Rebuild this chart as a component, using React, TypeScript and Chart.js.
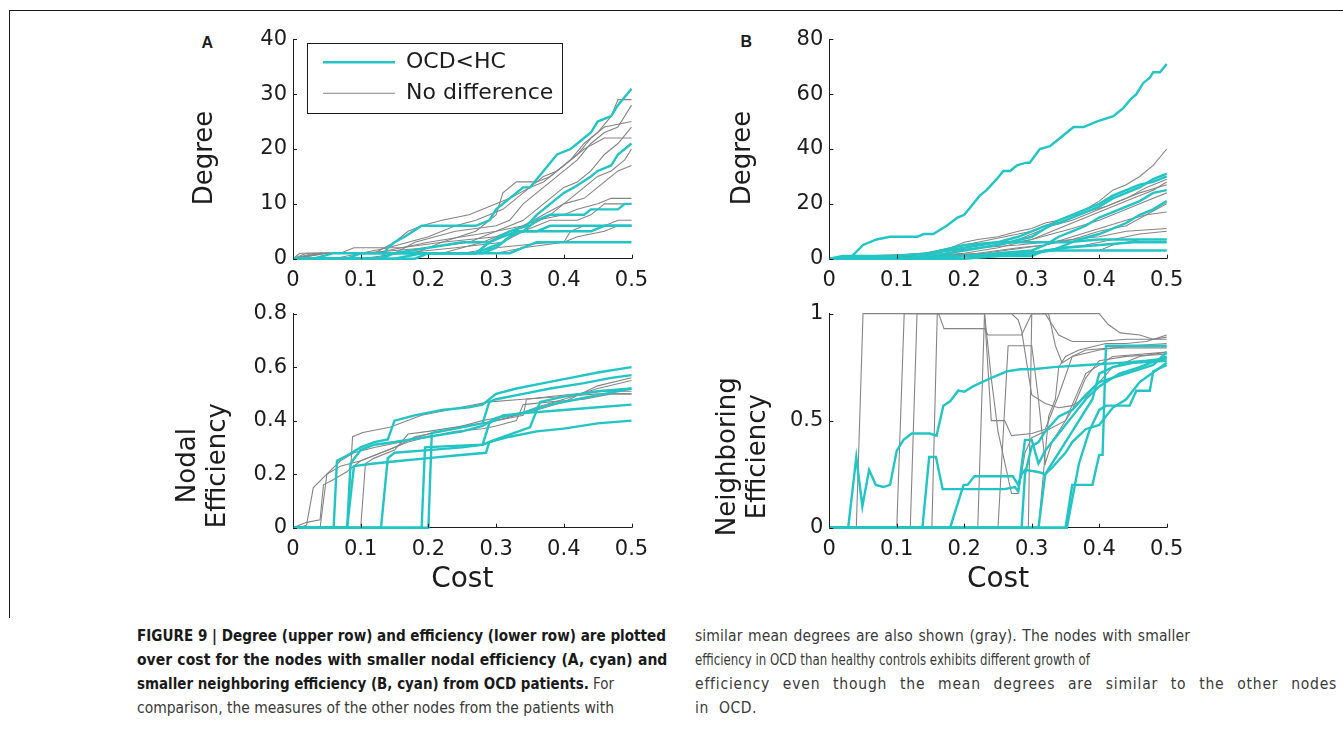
import React, { useEffect, useLayoutEffect, useRef } from 'react';
import { Chart, registerables } from 'chart.js';

Chart.register(...registerables);

type Pt = [number, number];

// ---------- tick labels ----------
const costTicks = ['0', '0.1', '0.2', '0.3', '0.4', '0.5'];
const aDegreeTicks = ['0', '10', '20', '30', '40'];
const aEffTicks = ['0', '0.2', '0.4', '0.6', '0.8'];
const bDegreeTicks = ['0', '20', '40', '60', '80'];
const bEffTicks = ['0', '0.5', '1'];

// ---------- Panel A, degree (cyan = OCD<HC) ----------
const aDegC1: Pt[] = [[0,0],[0.13,0],[0.14,2],[0.15,3],[0.165,4],[0.19,6],[0.27,6],[0.29,7],[0.3,9],[0.32,11],[0.34,13],[0.35,13],[0.37,16],[0.39,19],[0.41,20],[0.42,21],[0.44,23],[0.45,25],[0.47,26],[0.48,28],[0.5,31]];
const aDegC2: Pt[] = [[0,0],[0.18,0],[0.2,1],[0.27,1],[0.29,3],[0.32,5],[0.345,6],[0.36,8],[0.37,9],[0.39,11],[0.4,12],[0.415,13],[0.44,15],[0.45,16],[0.47,17],[0.48,19],[0.5,21]];
const aDegC3: Pt[] = [[0,0],[0.03,0],[0.06,1],[0.28,1],[0.3,2],[0.32,4],[0.34,5],[0.36,7],[0.38,8],[0.43,8],[0.44,9],[0.48,9],[0.49,10],[0.5,10]];
const aDegC4: Pt[] = [[0,0],[0.08,0],[0.1,1],[0.27,1],[0.29,2],[0.31,3],[0.33,5],[0.44,5],[0.46,6],[0.5,6]];
const aDegC5: Pt[] = [[0,0],[0.15,0],[0.19,1],[0.32,1],[0.34,2],[0.36,3],[0.5,3]];
const aDegC6: Pt[] = [[0,0],[0.13,0],[0.15,1],[0.2,2],[0.25,3],[0.29,3],[0.31,4],[0.33,5],[0.36,5],[0.38,6],[0.5,6]];
// ---------- Panel A, degree (gray = no difference) ----------
const aDegG1: Pt[] = [[0,0],[0.02,1],[0.12,1],[0.15,3],[0.17,5],[0.19,6],[0.22,7],[0.26,8],[0.28,9],[0.3,10],[0.32,11],[0.35,13],[0.37,14],[0.39,16],[0.41,18],[0.43,21],[0.45,23],[0.47,26],[0.48,29],[0.5,29]];
const aDegG2: Pt[] = [[0,0],[0.05,1],[0.15,1],[0.18,3],[0.24,5],[0.3,6],[0.32,7],[0.34,10],[0.36,12],[0.38,14],[0.4,16],[0.42,18],[0.44,21],[0.46,23],[0.48,24],[0.5,28]];
const aDegG3: Pt[] = [[0,0],[0.04,1],[0.1,1],[0.14,2],[0.2,4],[0.24,6],[0.27,7],[0.31,9],[0.33,11],[0.35,13],[0.37,15],[0.39,16],[0.42,19],[0.44,22],[0.46,24],[0.5,25]];
const aDegG4: Pt[] = [[0,0],[0.08,0],[0.1,1],[0.2,2],[0.26,3],[0.3,5],[0.34,7],[0.36,9],[0.38,11],[0.4,13],[0.42,14],[0.44,16],[0.46,19],[0.48,21],[0.5,24]];
const aDegG5: Pt[] = [[0,0],[0.06,0],[0.1,1],[0.22,1],[0.28,3],[0.32,5],[0.35,6],[0.38,8],[0.41,11],[0.43,13],[0.45,15],[0.47,16],[0.49,18],[0.5,20]];
const aDegG6: Pt[] = [[0,0],[0.01,1],[0.07,1],[0.09,2],[0.16,2],[0.2,3],[0.25,4],[0.3,5],[0.34,6],[0.37,8],[0.4,10],[0.43,11],[0.45,13],[0.47,15],[0.48,16],[0.5,17]];
const aDegG7: Pt[] = [[0,0],[0.04,1],[0.12,1],[0.16,2],[0.22,3],[0.3,4],[0.34,6],[0.36,7],[0.4,8],[0.42,9],[0.45,10],[0.47,11],[0.5,11]];
const aDegG8: Pt[] = [[0,0],[0.1,0],[0.16,1],[0.24,2],[0.31,3],[0.34,5],[0.38,7],[0.42,7],[0.44,8],[0.46,10],[0.5,10]];
const aDegG9: Pt[] = [[0,0],[0.05,1],[0.25,1],[0.3,2],[0.38,3],[0.4,3],[0.41,5],[0.43,6],[0.46,6],[0.48,7],[0.5,7]];
const aDegG10: Pt[] = [[0,0],[0.12,0],[0.15,1],[0.3,1],[0.34,2],[0.4,3],[0.42,4],[0.46,5],[0.48,6],[0.5,6]];
const aDegG11: Pt[] = [[0,0],[0.03,1],[0.18,1],[0.22,3],[0.27,5],[0.3,8],[0.31,12],[0.33,14],[0.36,14],[0.38,15],[0.4,17],[0.43,20],[0.46,22],[0.5,22]];

// ---------- Panel A, nodal efficiency ----------
const aEffC1: Pt[] = [[0,0],[0.06,0],[0.065,0.25],[0.08,0.27],[0.1,0.3],[0.12,0.32],[0.14,0.33],[0.15,0.4],[0.18,0.42],[0.22,0.44],[0.26,0.45],[0.28,0.46],[0.3,0.5],[0.33,0.52],[0.37,0.54],[0.41,0.56],[0.45,0.58],[0.5,0.6]];
const aEffC2: Pt[] = [[0,0],[0.2,0],[0.205,0.355],[0.24,0.37],[0.28,0.39],[0.29,0.47],[0.3,0.48],[0.34,0.5],[0.38,0.52],[0.43,0.54],[0.47,0.56],[0.5,0.57]];
const aEffC3: Pt[] = [[0,0],[0.19,0],[0.195,0.3],[0.23,0.305],[0.28,0.31],[0.3,0.33],[0.35,0.375],[0.365,0.47],[0.4,0.49],[0.45,0.51],[0.5,0.52]];
const aEffC4: Pt[] = [[0,0],[0.08,0],[0.085,0.24],[0.1,0.29],[0.12,0.31],[0.15,0.32],[0.2,0.34],[0.25,0.36],[0.28,0.38],[0.3,0.41],[0.34,0.43],[0.38,0.46],[0.42,0.48],[0.46,0.5],[0.5,0.52]];
const aEffC5: Pt[] = [[0,0],[0.13,0],[0.14,0.26],[0.15,0.28],[0.2,0.29],[0.25,0.3],[0.28,0.31],[0.29,0.39],[0.31,0.42],[0.35,0.43],[0.4,0.44],[0.45,0.45],[0.5,0.46]];
const aEffC6: Pt[] = [[0,0],[0.08,0],[0.09,0.23],[0.12,0.24],[0.16,0.25],[0.2,0.26],[0.24,0.27],[0.285,0.28],[0.29,0.32],[0.32,0.34],[0.36,0.36],[0.4,0.37],[0.45,0.39],[0.5,0.4]];
const aEffG1: Pt[] = [[0,0],[0.01,0],[0.02,0.01],[0.03,0.15],[0.05,0.2],[0.07,0.25],[0.09,0.28],[0.12,0.3],[0.16,0.32],[0.2,0.35],[0.25,0.38],[0.28,0.4],[0.3,0.41],[0.33,0.42],[0.36,0.44],[0.4,0.47],[0.45,0.53],[0.5,0.56]];
const aEffG2: Pt[] = [[0,0],[0.02,0.02],[0.04,0.03],[0.045,0.16],[0.06,0.18],[0.08,0.21],[0.1,0.25],[0.12,0.27],[0.15,0.3],[0.18,0.34],[0.22,0.36],[0.26,0.38],[0.3,0.4],[0.33,0.42],[0.36,0.45],[0.4,0.48],[0.45,0.52],[0.5,0.55]];
const aEffG3: Pt[] = [[0,0],[0.08,0],[0.088,0.34],[0.103,0.356],[0.143,0.375],[0.19,0.42],[0.22,0.435],[0.256,0.454],[0.29,0.47],[0.34,0.48],[0.4,0.49],[0.45,0.5],[0.5,0.5]];
const aEffG4: Pt[] = [[0,0],[0.1,0],[0.107,0.24],[0.12,0.26],[0.15,0.29],[0.17,0.35],[0.2,0.36],[0.25,0.38],[0.28,0.39],[0.3,0.4],[0.32,0.41],[0.34,0.42],[0.345,0.48],[0.38,0.49],[0.42,0.5],[0.46,0.51],[0.5,0.51]];
const aEffG5: Pt[] = [[0,0],[0.04,0],[0.05,0.2],[0.07,0.23],[0.1,0.25],[0.14,0.29],[0.17,0.32],[0.2,0.34],[0.24,0.36],[0.28,0.37],[0.3,0.38],[0.33,0.4],[0.34,0.46],[0.38,0.47],[0.43,0.48],[0.47,0.5],[0.5,0.5]];

// ---------- Panel B, degree ----------
const bDegC1: Pt[] = [[0,0],[0.03,0],[0.05,5],[0.07,7],[0.09,8],[0.13,8],[0.14,9],[0.154,9],[0.174,12],[0.19,15],[0.2,16],[0.223,23],[0.233,25],[0.248,29],[0.258,32],[0.268,32],[0.278,34],[0.292,35],[0.297,35],[0.312,40],[0.327,41],[0.337,43],[0.352,46],[0.362,48],[0.377,48],[0.396,50],[0.421,52],[0.436,55],[0.446,58],[0.455,60],[0.465,64],[0.475,66],[0.48,68],[0.49,68],[0.5,71]];
const bDegC2: Pt[] = [[0,0],[0.05,0],[0.1,1],[0.15,2],[0.2,4],[0.25,6],[0.28,8],[0.3,10],[0.32,12],[0.34,13],[0.36,15],[0.38,17],[0.4,19],[0.42,22],[0.44,24],[0.46,26],[0.48,29],[0.5,31]];
const bDegC3: Pt[] = [[0,0],[0.1,0],[0.15,1],[0.2,3],[0.25,5],[0.3,8],[0.32,11],[0.34,14],[0.36,16],[0.38,18],[0.4,20],[0.42,23],[0.44,25],[0.46,27],[0.48,28],[0.5,30]];
const bDegC4: Pt[] = [[0,0],[0.15,0],[0.2,1],[0.25,2],[0.3,3],[0.32,5],[0.34,8],[0.36,10],[0.38,12],[0.4,15],[0.42,17],[0.44,19],[0.46,21],[0.48,24],[0.5,25]];
const bDegC5: Pt[] = [[0,0],[0.2,0],[0.25,1],[0.3,2],[0.33,3],[0.35,5],[0.37,7],[0.4,9],[0.42,11],[0.44,13],[0.46,16],[0.48,18],[0.5,21]];
const bDegC6: Pt[] = [[0,0],[0.02,1],[0.1,1],[0.15,2],[0.2,5],[0.25,6],[0.35,6],[0.4,7],[0.5,7]];
const bDegC7: Pt[] = [[0,0],[0.1,0],[0.18,1],[0.3,1],[0.32,3],[0.35,4],[0.4,5],[0.45,6],[0.5,6]];
const bDegC8: Pt[] = [[0,0],[0.1,0],[0.2,1],[0.3,2],[0.32,3],[0.5,3]];
const bDegG1: Pt[] = [[0,0],[0.1,1],[0.15,2],[0.18,4],[0.2,6],[0.22,7],[0.25,8],[0.28,10],[0.3,11],[0.32,13],[0.34,14],[0.36,16],[0.38,18],[0.4,21],[0.42,25],[0.44,27],[0.46,30],[0.48,34],[0.5,40]];
const bDegG2: Pt[] = [[0,0],[0.12,1],[0.16,3],[0.2,5],[0.24,7],[0.28,9],[0.3,10],[0.32,12],[0.35,15],[0.38,17],[0.41,19],[0.44,22],[0.47,26],[0.5,29]];
const bDegG3: Pt[] = [[0,0],[0.08,0],[0.14,1],[0.2,2],[0.25,4],[0.3,7],[0.33,10],[0.36,13],[0.39,16],[0.42,19],[0.45,22],[0.48,25],[0.5,28]];
const bDegG4: Pt[] = [[0,0],[0.1,1],[0.18,2],[0.22,4],[0.27,6],[0.3,9],[0.33,12],[0.36,14],[0.4,18],[0.43,21],[0.46,24],[0.5,27]];
const bDegG5: Pt[] = [[0,0],[0.15,1],[0.2,3],[0.25,5],[0.3,7],[0.33,9],[0.36,11],[0.4,14],[0.44,18],[0.47,21],[0.5,24]];
const bDegG6: Pt[] = [[0,0],[0.16,1],[0.22,2],[0.28,4],[0.32,5],[0.36,8],[0.4,11],[0.44,14],[0.47,16],[0.5,20]];
const bDegG7: Pt[] = [[0,0],[0.12,0],[0.2,1],[0.26,3],[0.32,5],[0.36,7],[0.4,10],[0.44,12],[0.47,16],[0.5,17]];
const bDegG8: Pt[] = [[0,0],[0.05,1],[0.15,2],[0.22,4],[0.28,5],[0.32,6],[0.36,7],[0.4,8],[0.44,10],[0.5,11]];
const bDegG9: Pt[] = [[0,0],[0.2,1],[0.3,2],[0.34,4],[0.38,5],[0.42,7],[0.46,9],[0.5,10]];
const bDegG10: Pt[] = [[0,0],[0.15,1],[0.25,2],[0.33,3],[0.4,3],[0.42,5],[0.46,7],[0.5,7]];

// ---------- Panel B, neighboring efficiency ----------
const bNeiC1: Pt[] = [[0,0],[0.028,0],[0.04,0.33],[0.049,0.1],[0.059,0.27],[0.069,0.2],[0.08,0.19],[0.09,0.2],[0.1,0.36],[0.11,0.41],[0.122,0.44],[0.149,0.44],[0.159,0.43],[0.169,0.57],[0.179,0.59],[0.191,0.64],[0.2,0.635],[0.213,0.66],[0.233,0.69],[0.248,0.71],[0.263,0.73],[0.283,0.74],[0.302,0.74],[0.332,0.75],[0.381,0.76],[0.431,0.77],[0.47,0.78],[0.5,0.79]];
const bNeiC2: Pt[] = [[0,0],[0.138,0],[0.148,0.33],[0.158,0.33],[0.168,0.18],[0.26,0.18],[0.275,0.19],[0.28,0.17],[0.29,0.41],[0.3,0.41],[0.31,0.3],[0.32,0.36],[0.34,0.44],[0.36,0.52],[0.38,0.6],[0.4,0.66],[0.43,0.72],[0.46,0.75],[0.5,0.8]];
const bNeiC3: Pt[] = [[0,0],[0.179,0],[0.199,0.2],[0.205,0.2],[0.215,0.24],[0.272,0.24],[0.28,0.2],[0.285,0.25],[0.29,0.27],[0.31,0.26],[0.32,0.25],[0.33,0.28],[0.35,0.35],[0.36,0.4],[0.38,0.46],[0.4,0.48],[0.42,0.56],[0.44,0.6],[0.46,0.68],[0.5,0.77]];
const bNeiC4: Pt[] = [[0,0],[0.35,0],[0.36,0.2],[0.39,0.2],[0.4,0.34],[0.405,0.34],[0.41,0.85],[0.5,0.85]];
const bNeiC5: Pt[] = [[0,0],[0.352,0],[0.37,0.3],[0.385,0.45],[0.4,0.55],[0.41,0.57],[0.445,0.57],[0.455,0.64],[0.475,0.64],[0.48,0.73],[0.5,0.76]];
const bNeiC6: Pt[] = [[0,0],[0.285,0],[0.29,0.25],[0.3,0.38],[0.31,0.4],[0.32,0.45],[0.34,0.52],[0.36,0.55],[0.38,0.62],[0.4,0.68],[0.42,0.7],[0.45,0.73],[0.48,0.76],[0.5,0.82]];
const bNeiC7: Pt[] = [[0,0],[0.31,0],[0.32,0.25],[0.33,0.3],[0.35,0.4],[0.37,0.5],[0.39,0.6],[0.4,0.72],[0.42,0.75],[0.45,0.77],[0.5,0.78]];
const bNeiG1: Pt[] = [[0,0],[0.04,0],[0.05,1],[0.4,1],[0.413,0.95],[0.431,0.91],[0.46,0.9],[0.48,0.88],[0.5,0.89]];
const bNeiG2: Pt[] = [[0,0],[0.1,0],[0.111,1],[0.162,1],[0.17,0.93],[0.23,0.93],[0.235,0.9],[0.285,0.9],[0.3,1],[0.325,1],[0.335,0.85],[0.345,0.77],[0.36,0.8],[0.38,0.83],[0.42,0.84],[0.5,0.84]];
const bNeiG3: Pt[] = [[0,0],[0.12,0],[0.13,1],[0.23,1],[0.24,0.5],[0.26,0.5],[0.27,0.43],[0.3,0.44],[0.32,0.46],[0.34,0.62],[0.36,0.8],[0.4,0.83],[0.45,0.85],[0.5,0.86]];
const bNeiG4: Pt[] = [[0,0],[0.295,0],[0.3,1],[0.32,1],[0.34,0.9],[0.36,0.87],[0.4,0.87],[0.44,0.88],[0.5,0.88]];
const bNeiG5: Pt[] = [[0,0],[0.31,0],[0.325,0.52],[0.335,0.6],[0.34,0.75],[0.35,0.8],[0.37,0.83],[0.41,0.86],[0.44,0.86],[0.47,0.87],[0.5,0.9]];
const bNeiG6: Pt[] = [[0,0],[0.152,0],[0.16,1],[0.27,1],[0.28,0.97],[0.285,0.92],[0.3,0.62],[0.32,0.58],[0.34,0.56],[0.36,0.57],[0.38,0.61],[0.4,0.68],[0.42,0.75],[0.46,0.8],[0.5,0.82]];
const bNeiG7: Pt[] = [[0,0],[0.25,0],[0.265,0.85],[0.3,0.85],[0.31,0.6],[0.32,0.3],[0.33,0.4],[0.36,0.55],[0.38,0.7],[0.4,0.78],[0.44,0.8],[0.5,0.81]];
const bNeiG8: Pt[] = [[0,0],[0.22,0],[0.23,1],[0.24,0.7],[0.25,0.45],[0.27,0.16],[0.28,0.16],[0.29,0.35],[0.3,0.42],[0.32,0.45],[0.35,0.5],[0.38,0.72],[0.42,0.8],[0.5,0.82]];

const aDegCyan = [aDegC1, aDegC2, aDegC3, aDegC4, aDegC5, aDegC6];
const aDegGray = [aDegG1, aDegG2, aDegG3, aDegG4, aDegG5, aDegG6, aDegG7, aDegG8, aDegG9, aDegG10, aDegG11];
const aEffCyan = [aEffC1, aEffC2, aEffC3, aEffC4, aEffC5, aEffC6];
const aEffGray = [aEffG1, aEffG2, aEffG3, aEffG4, aEffG5];
const bDegCyan = [bDegC1, bDegC2, bDegC3, bDegC4, bDegC5, bDegC6, bDegC7, bDegC8];
const bDegGray = [bDegG1, bDegG2, bDegG3, bDegG4, bDegG5, bDegG6, bDegG7, bDegG8, bDegG9, bDegG10];
const bNeiCyan = [bNeiC1, bNeiC2, bNeiC3, bNeiC4, bNeiC5, bNeiC6, bNeiC7];
const bNeiGray = [bNeiG1, bNeiG2, bNeiG3, bNeiG4, bNeiG5, bNeiG6, bNeiG7, bNeiG8];

const seriesCyan = 'OCD<HC';
const seriesGray = 'No difference';

// ---------- caption ----------
type Seg = { b: boolean; t: string };
const captionLeft: Seg[][] = [
  [{ b: true, t: 'FIGURE 9 | Degree (upper row) and efficiency (lower row) are plotted' }],
  [{ b: true, t: 'over cost for the nodes with smaller nodal efficiency (A, cyan) and' }],
  [{ b: true, t: 'smaller neighboring efficiency (B, cyan) from OCD patients.' }, { b: false, t: ' For' }],
  [{ b: false, t: 'comparison, the measures of the other nodes from the patients with' }],
];
const captionRight: Seg[][] = [
  [{ b: false, t: 'similar mean degrees are also shown (gray). The nodes with smaller' }],
  [{ b: false, t: 'efficiency in OCD than healthy controls exhibits different growth of' }],
  [{ b: false, t: 'efficiency even though the mean degrees are similar to the other nodes' }],
  [{ b: false, t: 'in OCD.' }],
];
const leftWidths = [529, 529, 477, 477];
const rightWidths = [495, 395, 642, 62];

// ---------- styling ----------
const CYAN = '#22c4c4';
const GRAY = '#858585';
const INK = '#1c1c1c';
const FONT = 'DejaVu Sans';

const inwardTicks = {
  id: 'inwardTicks',
  afterDatasetsDraw(chart: any) {
    const { ctx, chartArea: ca, scales } = chart;
    ctx.save();
    ctx.strokeStyle = INK;
    ctx.lineWidth = 1;
    ctx.beginPath();
    scales.x.ticks.forEach((t: any) => {
      const px = Math.round(scales.x.getPixelForValue(t.value)) + 0.5;
      ctx.moveTo(px, ca.bottom);
      ctx.lineTo(px, ca.bottom - 4);
    });
    scales.y.ticks.forEach((t: any) => {
      const py = Math.round(scales.y.getPixelForValue(t.value)) + 0.5;
      ctx.moveTo(ca.left, py);
      ctx.lineTo(ca.left + 4, py);
    });
    ctx.stroke();
    ctx.restore();
  },
};

const legendInside = {
  id: 'legendInside',
  afterLayout(chart: any) {
    const lg = chart.legend;
    if (!lg) return;
    const ca = chart.chartArea;
    const left = ca.left + 21;
    const top = ca.top + 3;
    lg.left = left;
    lg.top = top;
    lg.width = 240;
    lg.height = 80;
    lg.right = left + 240;
    lg.bottom = top + 80;
  },
  afterDraw(chart: any) {
    const { ctx, chartArea: ca } = chart;
    ctx.save();
    ctx.strokeStyle = INK;
    ctx.lineWidth = 1;
    ctx.strokeRect(Math.round(ca.left + 14) + 0.5, Math.round(ca.top + 4) + 0.5, 255, 70);
    ctx.restore();
  },
};

// moves the y-axis title along the axis (MATLAB puts it a little lower than centre)
function makeTitleShift(shift: number) {
  return {
    id: 'titleShift',
    afterLayout(chart: any) {
      const s: any = chart.scales.y;
      if (!s || s.__shifted) return;
      const orig = s.drawTitle;
      s.drawTitle = function () {
        const t = this.top;
        const b = this.bottom;
        this.top = t + shift;
        this.bottom = b + shift;
        try {
          orig.call(this);
        } finally {
          this.top = t;
          this.bottom = b;
        }
      };
      s.__shifted = true;
    },
  };
}

type PanelSpec = {
  cyan: Pt[][];
  gray: Pt[][];
  yMax: number;
  yStep: number;
  yTicks: string[];
  yTitle: string | string[];
  titlePad: number;
  titleShift: number;
  padTop: number;
  padRight: number;
  yWidth: number;
  xHeight: number;
  xTitle: boolean;
  legend: boolean;
};

function buildDatasets(cyan: Pt[][], gray: Pt[][]) {
  const ds: any[] = [];
  cyan.forEach((line) =>
    ds.push({
      label: seriesCyan,
      data: line.map(([x, y]) => ({ x, y })),
      borderColor: CYAN,
      borderWidth: 2.4,
      order: 0,
      clip: 4,
    })
  );
  gray.forEach((line) =>
    ds.push({
      label: seriesGray,
      data: line.map(([x, y]) => ({ x, y })),
      borderColor: GRAY,
      borderWidth: 1.1,
      order: 1,
      clip: 4,
    })
  );
  return ds;
}

function Panel(props: { spec: PanelSpec; left: number; top: number; width: number; height: number }) {
  const ref = useRef<HTMLCanvasElement | null>(null);
  const { spec, left, top, width, height } = props;
  useEffect(() => {
    if (!ref.current) return;
    const tickFont = { family: FONT, size: 21 };
    const plugins: any[] = [inwardTicks, makeTitleShift(spec.titleShift)];
    if (spec.legend) plugins.push(legendInside);
    const chart = new Chart(ref.current, {
      type: 'line',
      data: { datasets: buildDatasets(spec.cyan, spec.gray) },
      options: {
        animation: false,
        responsive: false,
        devicePixelRatio: 1,
        layout: { padding: { top: spec.padTop, right: spec.padRight, left: 0, bottom: 0 } },
        elements: { point: { radius: 0 }, line: { tension: 0 } },
        plugins: {
          tooltip: { enabled: false },
          legend: spec.legend
            ? {
                display: true,
                position: 'chartArea',
                align: 'start',
                labels: {
                  usePointStyle: true,
                  pointStyle: 'line',
                  pointStyleWidth: 72,
                  padding: 9,
                  color: INK,
                  font: { family: FONT, size: 22 },
                  filter: (item: any, data: any) =>
                    data.datasets.findIndex((d: any) => d.label === item.text) === item.datasetIndex,
                },
              }
            : { display: false },
        },
        scales: {
          x: {
            type: 'linear',
            min: 0,
            max: 0.5,
            ticks: {
              stepSize: 0.1,
              autoSkip: false,
              maxRotation: 0,
              padding: 9,
              color: INK,
              font: tickFont,
              callback: (_v: any, i: number) => costTicks[i],
            },
            grid: { display: false, drawTicks: false },
            border: { display: true, color: INK, width: 1 },
            title: {
              display: spec.xTitle,
              text: 'Cost',
              color: INK,
              font: { family: FONT, size: 28 },
              padding: { top: 0, bottom: 3 },
            },
            afterFit: (s: any) => {
              s.height = spec.xHeight;
            },
          },
          y: {
            type: 'linear',
            min: 0,
            max: spec.yMax,
            ticks: {
              stepSize: spec.yStep,
              padding: 6,
              color: INK,
              font: tickFont,
              callback: (_v: any, i: number) => spec.yTicks[i],
            },
            grid: { display: false, drawTicks: false },
            border: { display: true, color: INK, width: 1 },
            title: {
              display: true,
              text: spec.yTitle,
              color: INK,
              font: { family: FONT, size: 26, lineHeight: 1.15 },
              padding: { top: spec.titlePad, bottom: 0 },
            },
            afterFit: (s: any) => {
              s.width = spec.yWidth;
            },
          },
        },
      } as any,
      plugins,
    });
    return () => chart.destroy();
  }, []);
  return (
    <canvas
      ref={ref}
      width={width}
      height={height}
      style={{ position: 'absolute', left, top, width, height }}
    />
  );
}

function CaptionLine(props: { segs: Seg[]; target: number; left: number; top: number }) {
  const ref = useRef<HTMLSpanElement | null>(null);
  const { segs, target, left, top } = props;
  useLayoutEffect(() => {
    const el = ref.current;
    if (!el) return;
    const text = segs.map((s) => s.t).join('');
    const n = text.length;
    const spaces = (text.match(/ /g) || []).length || 1;
    const fit = () => {
      el.style.transform = 'none';
      el.style.letterSpacing = '0px';
      el.style.wordSpacing = '0px';
      const w = el.getBoundingClientRect().width;
      if (w <= 0) return;
      if (target >= w) {
        const extra = target - w;
        el.style.letterSpacing = ((extra * 0.4) / n).toFixed(3) + 'px';
        el.style.wordSpacing = ((extra * 0.6) / spaces).toFixed(3) + 'px';
      } else {
        el.style.transform = `scaleX(${(target / w).toFixed(4)})`;
      }
    };
    fit();
    if ((document as any).fonts && (document as any).fonts.ready) {
      (document as any).fonts.ready.then(fit);
    }
  }, []);
  return (
    <span
      ref={ref}
      style={{
        position: 'absolute',
        left,
        top,
        whiteSpace: 'nowrap',
        display: 'inline-block',
        transformOrigin: 'left center',
        fontFamily: "'Liberation Sans Narrow', 'DejaVu Sans Condensed', 'Liberation Sans', sans-serif",
        fontSize: 15.5,
        lineHeight: '24px',
        color: '#2a2a2a',
      }}
    >
      {segs.map((s, i) => (
        <span key={i} style={{ fontWeight: s.b ? 700 : 400, color: s.b ? '#1a1a1a' : '#3a3a3a' }}>
          {s.t}
        </span>
      ))}
    </span>
  );
}

const specAT: PanelSpec = {
  cyan: aDegCyan, gray: aDegGray, yMax: 40, yStep: 10, yTicks: aDegreeTicks, yTitle: 'Degree',
  titlePad: 30, titleShift: 9, padTop: 19.3, padRight: 28.5, yWidth: 133, xHeight: 36.3, xTitle: false, legend: true,
};
const specAB: PanelSpec = {
  cyan: aEffCyan, gray: aEffGray, yMax: 0.8, yStep: 0.2, yTicks: aEffTicks, yTitle: ['Nodal', 'Efficiency'],
  titlePad: 13, titleShift: 45, padTop: 13.3, padRight: 28.5, yWidth: 133, xHeight: 72.3, xTitle: true, legend: false,
};
const specBT: PanelSpec = {
  cyan: bDegCyan, gray: bDegGray, yMax: 80, yStep: 20, yTicks: bDegreeTicks, yTitle: 'Degree',
  titlePad: 38, titleShift: 9, padTop: 19.3, padRight: 33.3, yWidth: 139.3, xHeight: 36.3, xTitle: false, legend: false,
};
const specBB: PanelSpec = {
  cyan: bNeiCyan, gray: bNeiGray, yMax: 1, yStep: 0.5, yTicks: bEffTicks, yTitle: ['Neighboring', 'Efficiency'],
  titlePad: 23, titleShift: 36, padTop: 13.3, padRight: 33.3, yWidth: 139.3, xHeight: 72.3, xTitle: true, legend: false,
};

export default function App() {
  return (
    <div
      style={{
        position: 'absolute',
        left: 0,
        top: 0,
        width: 1343,
        height: 734,
        background: '#ffffff',
        overflow: 'hidden',
      }}
    >
      <div
        style={{
          position: 'absolute',
          left: 9,
          top: 10,
          width: 1343,
          height: 607,
          borderTop: '1px solid #1a1a1a',
          borderLeft: '1px solid #1a1a1a',
        }}
      />
      <div style={{ position: 'absolute', left: 201.5, top: 34.7, font: "bold 16px 'Liberation Sans', Arial, sans-serif", lineHeight: '16px', color: INK }}>A</div>
      <div style={{ position: 'absolute', left: 740.5, top: 34, font: "bold 16px 'Liberation Sans', Arial, sans-serif", lineHeight: '16px', color: INK }}>B</div>
      <Panel spec={specAT} left={160} top={20} width={500} height={275} />
      <Panel spec={specAB} left={160} top={295} width={500} height={305} />
      <Panel spec={specBT} left={690} top={20} width={510} height={275} />
      <Panel spec={specBB} left={690} top={295} width={510} height={305} />
      {captionLeft.map((segs, i) => (
        <CaptionLine key={'l' + i} segs={segs} target={leftWidths[i]} left={137} top={624 + i * 24} />
      ))}
      {captionRight.map((segs, i) => (
        <CaptionLine key={'r' + i} segs={segs} target={rightWidths[i]} left={695} top={624 + i * 24} />
      ))}
    </div>
  );
}
